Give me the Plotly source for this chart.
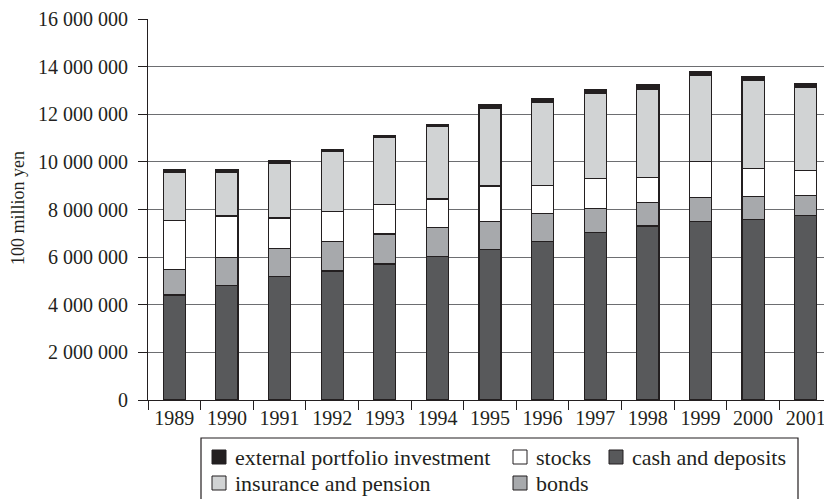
import plotly.graph_objects as go

years = ["1989", "1990", "1991", "1992", "1993", "1994", "1995",
         "1996", "1997", "1998", "1999", "2000", "2001"]

cash_and_deposits = [4410000, 4800000, 5180000, 5420000, 5710000, 6020000, 6330000,
                     6640000, 7040000, 7310000, 7480000, 7570000, 7760000]
bonds = [1080000, 1190000, 1180000, 1240000, 1260000, 1220000, 1170000,
         1200000, 1010000, 980000, 1020000, 990000, 820000]
stocks = [2040000, 1740000, 1280000, 1240000, 1250000, 1200000, 1490000,
          1160000, 1260000, 1060000, 1500000, 1170000, 1050000]
insurance_and_pension = [2030000, 1820000, 2300000, 2520000, 2810000, 3040000, 3260000,
                         3490000, 3570000, 3700000, 3620000, 3710000, 3500000]
external_portfolio = [100000, 110000, 110000, 110000, 90000, 80000, 150000,
                      170000, 170000, 180000, 170000, 140000, 170000]

y_ticks = [0, 2000000, 4000000, 6000000, 8000000, 10000000, 12000000, 14000000, 16000000]
y_title = "100 million yen"

series = [
    ("cash and deposits", cash_and_deposits, "#58595b"),
    ("bonds", bonds, "#a7a9ac"),
    ("stocks", stocks, "#ffffff"),
    ("insurance and pension", insurance_and_pension, "#d1d3d4"),
    ("external portfolio investment", external_portfolio, "#231f20"),
]

FONT = "Liberation Serif, Times New Roman, serif"
OFF = 8  # page body margin
W, H = 832 - OFF, 499 - OFF
ML, MR, MT = 148 - OFF, 0, 19 - OFF
PH = 381
MB = H - MT - PH
PW = W - ML - MR

fig = go.Figure()
for name, vals, col in series:
    fig.add_trace(go.Bar(
        x=years, y=vals, name=name, showlegend=False,
        marker=dict(color=col, line=dict(color="#231f20", width=1.2)),
    ))

def px_x(px):
    return (px - OFF - ML) / PW

def px_y(py):
    return (H - MB - (py - OFF)) / PH

# manual legend (layout: 3 columns, 2 rows)
legend_layout = [
    ("external portfolio investment", 0, 0),
    ("stocks", 1, 0),
    ("cash and deposits", 2, 0),
    ("insurance and pension", 0, 1),
    ("bonds", 1, 1),
]
col_sq_x = [212, 513, 609]
row_y = [457, 483]
sq = 14
colors = {n: c for n, _, c in series}

shapes = [dict(type="rect", xref="paper", yref="paper",
               x0=px_x(201), x1=px_x(798), y0=px_y(438), y1=px_y(520),
               line=dict(color="#231f20", width=1.2), fillcolor="rgba(0,0,0,0)")]
annotations = []
for name, c, r in legend_layout:
    x0 = col_sq_x[c]
    yc = row_y[r]
    shapes.append(dict(type="rect", xref="paper", yref="paper",
                       x0=px_x(x0), x1=px_x(x0 + sq),
                       y0=px_y(yc - sq / 2), y1=px_y(yc + sq / 2),
                       line=dict(color="#231f20", width=1), fillcolor=colors[name]))
    annotations.append(dict(xref="paper", yref="paper", x=px_x(x0 + sq + 7), y=px_y(yc),
                            xanchor="left", yanchor="middle", showarrow=False,
                            text=name, font=dict(family=FONT, size=22, color="#231f20")))

annotations.append(dict(xref="paper", yref="paper", x=px_x(18), y=px_y(208),
                        xanchor="center", yanchor="middle", showarrow=False,
                        textangle=-90, text=y_title,
                        font=dict(family=FONT, size=18, color="#231f20")))

fig.update_layout(
    width=W, height=H,
    margin=dict(l=ML, r=MR, t=MT, b=MB, autoexpand=False),
    barmode="stack", bargap=0.58,
    plot_bgcolor="white", paper_bgcolor="white",
    separators=". ",
    font=dict(family=FONT, size=20, color="#231f20"),
    shapes=shapes, annotations=annotations,
    showlegend=False,
)
fig.update_xaxes(
    type="category", tickson="boundaries", showgrid=False, automargin=False,
    showline=True, linecolor="#231f20", linewidth=1.2,
    ticks="outside", ticklen=9, tickcolor="#231f20", tickwidth=1.2,
    tickfont=dict(family=FONT, size=20, color="#231f20"),
    range=[-0.5, 12.5],
)
fig.update_yaxes(
    range=[0, 16000000], tickvals=y_ticks, tickformat=",.0f", automargin=False,
    showgrid=True, gridcolor="#6d6e71", gridwidth=1,
    showline=True, linecolor="#231f20", linewidth=1.2,
    ticks="outside", ticklen=9, tickcolor="#231f20", tickwidth=1.2,
    ticklabelstandoff=6,
    tickfont=dict(family=FONT, size=20, color="#231f20"),
    zeroline=False,
)

fig.write_html("out.html")
